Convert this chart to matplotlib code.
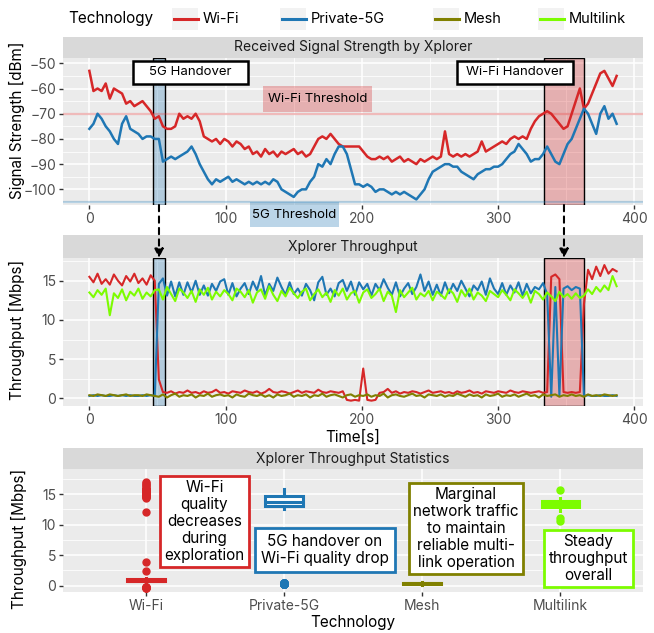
import numpy as np
import matplotlib.pyplot as plt
from matplotlib.patches import Rectangle, ConnectionPatch
from matplotlib.lines import Line2D
from matplotlib.ticker import MultipleLocator
from matplotlib.colors import to_rgba

plt.rcParams['font.family'] = ['Inter', 'DejaVu Sans']

# ---- data (sampled every 3 s) ----
rssi_wifi = [-53, -61, -60, -61, -58, -64, -60, -61, -62, -66, -65, -67, -66, -65, -67, -69,
             -72, -71, -75, -76, -76, -75, -70, -72, -71, -72, -70, -73, -79, -80, -81, -80,
             -82, -80, -81, -83, -81, -82, -84, -83, -86, -85, -87, -84, -86, -85, -87, -85,
             -86, -85, -84, -86, -85, -87, -86, -83, -80, -79, -80, -78, -80, -82, -83, -83,
             -83, -83, -83, -85, -87, -88, -88, -87, -88, -87, -89, -88, -87, -89, -88, -89,
             -90, -88, -89, -88, -87, -88, -87, -77, -86, -87, -86, -87, -86, -87, -86, -85,
             -81, -85, -84, -83, -82, -81, -82, -80, -79, -80, -79, -80, -76, -73, -71, -70,
             -69, -70, -72, -74, -76, -75, -70, -65, -60, -68, -66, -62, -58, -54, -53, -56,
             -59, -55]
rssi_5g = [-76, -74, -70, -72, -75, -77, -80, -82, -74, -71, -76, -77, -78, -80, -79, -79,
           -80, -80, -89, -88, -87, -88, -87, -86, -85, -83, -86, -90, -93, -96, -98, -96,
           -97, -96, -95, -97, -96, -97, -98, -97, -98, -97, -98, -97, -98, -96, -97, -100,
           -101, -102, -103, -101, -100, -100, -97, -95, -90, -91, -88, -90, -86, -83, -83, -86,
           -92, -98, -98, -99, -98, -99, -101, -100, -100, -101, -102, -101, -102, -101, -102, -103,
           -104, -102, -100, -96, -93, -92, -91, -90, -90, -91, -91, -93, -94, -95, -96, -94,
           -93, -92, -92, -91, -91, -90, -88, -86, -85, -82, -84, -86, -89, -88, -88, -86,
           -83, -86, -89, -90, -86, -82, -80, -76, -72, -68, -70, -74, -78, -70, -67, -72,
           -70, -74]

tput_wifi = [15.5, 14.8, 15.9, 14.6, 15.2, 14.5, 15.8, 15.0, 14.4, 15.6, 14.9, 15.9, 14.7, 15.3, 14.5, 15.7, 15.0,
             2.4, 0.8, 0.7, 0.9, 0.6, 0.8, 0.7, 1.0, 0.7, 0.8, 0.6, 0.9, 0.7, 0.8, 1.1, 0.7, 0.8,
             0.6, 0.9, 0.8, 0.7, 1.0, 0.8, 0.7, 0.9, 0.6, 0.8, 1.2, 0.8, 0.7, 0.9, 0.8, 0.6, 0.8,
             1.0, 0.7, 0.9, 0.8, 0.7, 1.1, 0.8, 0.7, 0.9, 0.8, 0.7, 0.9,
             -0.2, -0.3, -0.2, -0.3, 3.8, -0.2, -0.3, -0.2,
             0.7, 0.8, 1.2, 0.7, 0.9, 0.6, 0.8, 0.7, 0.9, 0.8, 0.6, 0.8, 1.0, 0.7, 0.8, 0.9, 0.7,
             0.8, 0.6, 0.9, 0.7, 0.8, 1.0, 0.7, 0.8, 0.6, 0.9, 0.8, 0.7, 0.9, 0.8, 0.7, 1.0, 0.8,
             0.7, 0.9, 0.8, 0.7, 0.8, 0.9, 0.7, 0.8,
             15.5, 15.8, 15.2,
             0.8, 0.7, 0.8, 0.7, 0.8,
             12.0, 16.4, 15.2, 16.8, 15.6, 17.0, 15.9, 16.5, 16.2]
tput_5g = [0.3, 0.4, 0.3, 0.4, 0.3, 0.3, 0.4, 0.3, 0.4, 0.3, 0.4, 0.3, 0.3, 0.4, 0.3, 0.4, 0.3,
           14.6, 15.3, 13.1, 14.9, 13.0, 14.8, 13.2, 14.8, 13.5, 15.0, 13.2, 14.4, 13.1, 14.6, 13.7, 14.9, 15.2,
           13.2, 14.7, 13.0, 14.0, 14.7, 13.3, 14.9, 13.8, 15.6, 13.1, 14.6, 13.7, 15.4, 14.2, 13.2, 14.8, 13.3,
           14.0, 13.1, 14.6, 13.8, 12.5, 14.8, 15.5, 13.2, 14.0, 13.0, 14.7, 15.1, 13.7, 14.9, 13.2, 14.8, 13.9,
           14.6, 13.1, 14.6, 13.8, 15.2, 14.1, 13.2, 14.8, 13.0, 14.0, 14.7, 13.3, 14.2, 15.8, 13.7, 14.9, 13.2,
           14.5, 13.1, 14.8, 13.4, 14.6, 13.7, 15.0, 14.0, 13.0, 14.4, 13.8, 14.9, 13.2, 15.3, 14.0, 13.3, 14.7,
           13.2, 14.4, 13.5, 14.8, 13.1, 14.6, 13.4, 14.2, 13.9, 14.7, 13.3,
           0.2, 14.2, 0.3, 14.0, 14.3, 13.8, 14.2, 14.0, 0.3, 0.4, 0.3, 0.3, 0.4, 0.3, 0.3, 0.4, 0.3]
tput_mesh = [0.4, 0.3, 0.5, 0.4, 0.3, 0.5, 0.4, 0.3, 0.4, 0.5, 0.3, 0.4, 0.4, 0.3, 0.5, 0.4, 0.3,
             0.2, 0.5, 0.1, 0.4, 0.6, 0.2, 0.4, 0.3, 0.5, 0.1, 0.4, 0.3, 0.6, 0.2, 0.4, 0.5, 0.3,
             0.4, 0.1, 0.5, 0.3, 0.2, 0.6, 0.4, 0.3, 0.5, 0.2, 0.4, 0.1, 0.5, 0.3, 0.4, 0.6, 0.2,
             0.4, 0.3, 0.5, 0.1, 0.4, 0.3, 0.6, 0.2, 0.4, 0.5, 0.3, 0.1, 0.4, 0.5, 0.2, 0.4, 0.3,
             0.5, 0.2, 0.4, 0.3, 0.6, 0.1, 0.4, 0.5, 0.3, 0.2, 0.4, 0.6, 0.3, 0.4, 0.1, 0.5, 0.4,
             0.3, 0.5, 0.2, 0.4, 0.3, 0.6, 0.4, 0.2, 0.5, 0.3, 0.4, 0.1, 0.5, 0.3, 0.4, 0.6, 0.2,
             0.4, 0.3, 0.5, 0.2, 0.4, 0.6, 0.3, 0.4, 0.1, 0.5, 0.3, 0.4, 0.5, 0.2, 0.4, 0.3, 0.5,
             0.3, 0.4, 0.2, 0.5, 0.3, 0.4, 0.3, 0.5, 0.4, 0.3, 0.4]
tput_multi = [13.5, 12.9, 13.8, 13.2, 14.0, 10.6, 13.4, 12.8, 13.9, 12.5, 13.6, 13.1, 14.0, 12.7, 13.5, 13.0, 13.8,
              13.9, 12.6, 14.2, 13.3, 12.4, 14.0, 13.5, 12.8, 13.7, 12.3, 13.9, 13.2, 14.1, 12.6, 13.6, 13.0, 13.8,
              13.3, 12.5, 14.0, 13.6, 12.9, 13.8, 12.2, 13.5, 13.9, 12.7, 14.3, 13.2, 12.4, 13.7, 13.0, 14.1, 13.4,
              12.8, 13.6, 14.0, 12.5, 13.3, 13.9, 12.9, 13.5, 12.3, 13.8, 13.1, 14.0, 12.6, 13.4, 13.7, 12.2, 13.5,
              13.9, 12.8, 13.3, 14.0, 12.4, 13.6, 13.1, 11.0, 13.8, 12.9, 13.5, 14.1, 12.6, 13.4, 13.0, 13.7, 12.5,
              13.6, 13.2, 12.7, 13.9, 13.4, 12.3, 13.8, 13.0, 14.0, 12.6, 13.5, 13.1, 12.4, 13.7, 13.3, 12.9, 13.8,
              13.2, 12.5, 13.9, 13.4, 12.8, 13.6, 12.2, 13.7, 13.3, 12.6, 13.5, 13.0, 12.4, 13.6, 12.9, 13.3, 12.7,
              13.4, 12.8, 13.1, 13.9, 13.3, 14.2, 13.6, 14.4, 13.8, 15.6, 14.3]

techs = ['Wi-Fi', 'Private-5G', 'Mesh', 'Multilink']
colors = ['#d62728', '#1f77b4', '#808000', '#7cfc00']
tput = [tput_wifi, tput_5g, tput_mesh, tput_multi]

wifi_thr, g5_thr = -70, -105
ho_5g = (46.7, 55.5)
ho_wifi = (333.7, 363.0)

W, H = 654, 633
fig = plt.figure(figsize=(W / 100, H / 100), dpi=100)


def rect(l, t, r, b):
    return [l / W, 1 - b / H, (r - l) / W, (b - t) / H]


def style(ax):
    ax.set_facecolor('#EBEBEB')
    for s in ax.spines.values():
        s.set_visible(False)
    ax.grid(which='major', color='white', lw=1.1)
    ax.grid(which='minor', color='white', lw=0.55)
    ax.set_axisbelow(True)
    ax.tick_params(which='major', length=3, width=1.0, color='#333333',
                   labelcolor='#4D4D4D', labelsize=10, pad=2)
    ax.tick_params(which='minor', length=0)


def strip(r, title):
    s = fig.add_axes(r)
    s.set_facecolor('#D9D9D9')
    s.set_xticks([])
    s.set_yticks([])
    for sp in s.spines.values():
        sp.set_visible(False)
    s.text(0.5, 0.5, title, ha='center', va='center', fontsize=10, color='#1A1A1A')


# ---- panel 1: RSSI ----
ax1 = fig.add_axes(rect(63, 58, 643, 205))
strip(rect(63, 37, 643, 58), 'Received Signal Strength by Xplorer')
style(ax1)
t1 = np.arange(len(rssi_wifi)) * 3
t1b = np.arange(len(rssi_5g)) * 3
ax1.axhline(wifi_thr, color=to_rgba(colors[0], 0.3), lw=1.6)
ax1.axhline(g5_thr, color=to_rgba(colors[1], 0.3), lw=1.6)
ax1.plot(t1, rssi_wifi, color=colors[0], lw=1.8)
ax1.plot(t1b, rssi_5g, color=colors[1], lw=1.8)
ax1.axvspan(*ho_5g, fc=to_rgba(colors[1], 0.28), ec='black', lw=1.0)
ax1.axvspan(*ho_wifi, fc=to_rgba(colors[0], 0.3), ec='black', lw=1.0)
ax1.set_xlim(-19.35, 406.35)
ax1.set_ylim(-106.2, -47.9)
ax1.xaxis.set_major_locator(MultipleLocator(100))
ax1.xaxis.set_minor_locator(MultipleLocator(50))
ax1.yaxis.set_major_locator(MultipleLocator(10))
ax1.yaxis.set_minor_locator(MultipleLocator(5))

# handover labels
for (x0, x1), txt in [((32.0, 116.4), '5G Handover'), ((269.6, 355.2), 'Wi-Fi Handover')]:
    ax1.add_patch(Rectangle((x0, -58.2), x1 - x0, 9.1, fc='white', ec='black', lw=1.8, zorder=5))
    ax1.text((x0 + x1) / 2, -53.65, txt, ha='center', va='center', fontsize=9.5, zorder=6)
# threshold labels
ax1.add_patch(Rectangle((127.4, -69.3), 80.0, 10.3, fc=to_rgba(colors[0], 0.3), ec='none', zorder=3))
ax1.text(167.4, -64.2, 'Wi-Fi Threshold', ha='center', va='center', fontsize=9.5, zorder=4)
ax1.add_patch(Rectangle((118.0, -115.0), 65.2, 9.9, fc=to_rgba(colors[1], 0.3), ec='none',
                        zorder=3, clip_on=False))
ax1.text(150.6, -110.0, '5G Threshold', ha='center', va='center', fontsize=9.5, zorder=4, clip_on=False)

# ---- panel 2: throughput ----
ax2 = fig.add_axes(rect(63, 258, 643, 406))
strip(rect(63, 235, 643, 258), 'Xplorer Throughput')
style(ax2)
for series, c in zip(tput, colors):
    ax2.plot(np.arange(len(series)) * 3, series, color=c, lw=1.5)
ax2.axvspan(*ho_5g, fc=to_rgba(colors[1], 0.28), ec='black', lw=1.0)
ax2.axvspan(*ho_wifi, fc=to_rgba(colors[0], 0.3), ec='black', lw=1.0)
ax2.set_xlim(-19.35, 406.35)
ax2.set_ylim(-0.98, 17.9)
ax2.xaxis.set_major_locator(MultipleLocator(100))
ax2.xaxis.set_minor_locator(MultipleLocator(50))
ax2.yaxis.set_major_locator(MultipleLocator(5))
ax2.yaxis.set_minor_locator(MultipleLocator(2.5))

# dashed arrows between panels
for tx in [sum(ho_5g) / 2, sum(ho_wifi) / 2]:
    con = ConnectionPatch(xyA=(tx, -106.2), coordsA=ax1.transData,
                          xyB=(tx, 17.9), coordsB=ax2.transData,
                          arrowstyle='-|>', linestyle=(0, (3, 2.5)), lw=1.5,
                          color='black', mutation_scale=13, shrinkA=0, shrinkB=0)
    fig.add_artist(con)

# ---- panel 3: statistics ----
ax3 = fig.add_axes(rect(63, 469, 643, 592))
strip(rect(63, 448, 643, 469), 'Xplorer Throughput Statistics')
style(ax3)
ax3.set_xlim(0.4, 4.6)
ax3.set_ylim(-1.03, 19.1)
ax3.yaxis.set_major_locator(MultipleLocator(5))
ax3.yaxis.set_minor_locator(MultipleLocator(2.5))
ax3.grid(which='minor', axis='x', visible=False)
for i, (series, c) in enumerate(zip(tput, colors)):
    ax3.boxplot([series], positions=[i + 1], widths=0.27, patch_artist=True, showcaps=False,
                boxprops=dict(facecolor='white', edgecolor=c, lw=2.2),
                whiskerprops=dict(color=c, lw=2.2),
                medianprops=dict(color=c, lw=2.2),
                flierprops=dict(marker='o', markerfacecolor=c, markeredgecolor=c, markersize=5))
ax3.set_xticks([1, 2, 3, 4])
ax3.set_xticklabels(techs)

notes = [(1.425, 10.5, 'Wi-Fi\nquality\ndecreases\nduring\nexploration', 0.3),
         (2.297, 5.84, '5G handover on\nWi-Fi quality drop', 0.4),
         (3.318, 9.36, 'Marginal\nnetwork traffic\nto maintain\nreliable multi-\nlink operation', 0.3),
         (4.205, 4.45, 'Steady\nthroughput\noverall', 0.3)]
for (x, y, txt, pad), c in zip(notes, colors):
    ax3.text(x, y, txt, ha='center', va='center', fontsize=11, linespacing=1.15, zorder=6,
             bbox=dict(boxstyle='square,pad=%s' % pad, fc='white', ec=c, lw=2.0))

# ---- axis titles ----
fig.text(17 / W, 1 - 120.7 / H, 'Signal Strength [dBm]', rotation=90, ha='center', va='center', fontsize=11)
fig.text(17 / W, 1 - 330 / H, 'Throughput [Mbps]', rotation=90, ha='center', va='center', fontsize=11)
fig.text(19 / W, 1 - 539 / H, 'Throughput [Mbps]', rotation=90, ha='center', va='center', fontsize=11)
fig.text(353 / W, 1 - 437 / H, 'Time[s]', ha='center', va='center', fontsize=11)
fig.text(353 / W, 1 - 622 / H, 'Technology', ha='center', va='center', fontsize=11)

# ---- legend ----
fig.text(68 / W, 1 - 19 / H, 'Technology', ha='left', va='center', fontsize=11)
for kl, lab, c in zip([172, 280, 433, 538], techs, colors):
    fig.add_artist(Rectangle((kl / W, 1 - 30 / H), 26 / W, 22 / H, transform=fig.transFigure,
                             fc='#F2F2F2', ec='none'))
    fig.add_artist(Line2D([(kl + 2) / W, (kl + 26) / W], [1 - 19 / H] * 2, color=c, lw=2.2,
                          transform=fig.transFigure))
    fig.text((kl + 31) / W, 1 - 19 / H, lab, ha='left', va='center', fontsize=10.5)

fig.savefig('out.png', dpi=100)
